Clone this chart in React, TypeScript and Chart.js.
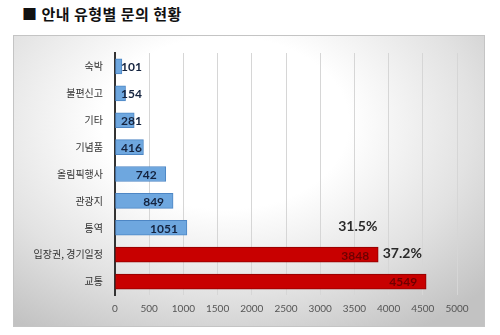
import React, { useEffect, useRef } from "react";
import { Chart, registerables } from "chart.js";

Chart.register(...registerables);

const titleText = "■ 안내 유형별 문의 현황";
const categories = ["숙박", "불편신고", "기타", "기념품", "올림픽행사", "관광지", "통역", "입장권, 경기일정", "교통"];
const values = [101, 154, 281, 416, 742, 849, 1051, 3848, 4549];
const highlight = [false, false, false, false, false, false, false, true, true];
const xTicks = [0, 500, 1000, 1500, 2000, 2500, 3000, 3500, 4000, 4500, 5000];
const pctTexts = ["31.5%", "37.2%"];
const pctCategory = ["통역", "입장권, 경기일정"];
const pctValue = [3550, 4200];

const BLUE = "#6ea7df";
const BLUE_BORDER = "#4d86c4";
const RED = "#c80000";
const RED_BORDER = "#8e0000";

const labelPlugin = {
  id: "barLabels",
  afterDatasetsDraw(chart: any) {
    const ctx = chart.ctx;
    const meta = chart.getDatasetMeta(0);
    const xs = chart.scales.x;
    const ys = chart.scales.y;
    ctx.save();
    ctx.font = "bold 12px Lato, 'Liberation Sans', sans-serif";
    ctx.textAlign = "right";
    ctx.textBaseline = "middle";
    meta.data.forEach((bar: any, i: number) => {
      const minRight = xs.getPixelForValue(0) + 27;
      const x = Math.max(bar.x - 9, minRight);
      ctx.fillStyle = highlight[i] ? "#6e0000" : "#14233f";
      ctx.fillText(String(values[i]), x, bar.y + 1);
    });
    ctx.font = "bold 14px Lato, 'Liberation Sans', sans-serif";
    ctx.textAlign = "center";
    ctx.fillStyle = "#2a2a2a";
    pctTexts.forEach((t, i) => {
      const idx = categories.indexOf(pctCategory[i]);
      ctx.fillText(t, xs.getPixelForValue(pctValue[i]), ys.getPixelForValue(idx) - 1);
    });
    ctx.restore();
  },
};

export default function App() {
  const ref = useRef<HTMLCanvasElement>(null);
  useEffect(() => {
    const chart = new Chart(ref.current!, {
      type: "bar",
      data: {
        labels: categories,
        datasets: [
          {
            data: values,
            backgroundColor: highlight.map((h) => (h ? RED : BLUE)),
            borderColor: highlight.map((h) => (h ? RED_BORDER : BLUE_BORDER)),
            borderWidth: 1,
            borderSkipped: false,
            barThickness: 15,
          },
        ],
      },
      options: {
        indexAxis: "y",
        animation: false,
        responsive: false,
        maintainAspectRatio: false,
        layout: { padding: { left: 0, right: 28, top: 17, bottom: 0 } },
        plugins: { legend: { display: false }, tooltip: { enabled: false }, title: { display: false } },
        scales: {
          x: {
            min: 0,
            max: 5000,
            afterBuildTicks: (s: any) => {
              s.ticks = xTicks.map((v) => ({ value: v }));
            },
            afterFit: (s: any) => {
              s.height = 32;
            },
            grid: { color: "#d6d6d6", lineWidth: 1, drawTicks: false },
            border: { display: false },
            ticks: {
              padding: 8,
              color: "#555",
              font: { size: 10, family: "Lato, 'Liberation Sans', sans-serif" },
              callback: (v: any) => String(v),
            },
          },
          y: {
            afterFit: (s: any) => {
              s.width = 102;
            },
            grid: { display: false, drawTicks: false },
            border: { display: true, color: "#333", width: 2 },
            ticks: {
              padding: 12,
              color: "#333",
              font: { size: 10, family: "'Noto Sans CJK KR', sans-serif" },
            },
          },
        },
      },
      plugins: [labelPlugin],
    });
    return () => chart.destroy();
  }, []);

  return (
    <div style={{ position: "fixed", left: 0, top: 0, width: 500, height: 335, background: "#fff", overflow: "hidden" }}>
      <div
        style={{
          position: "absolute",
          left: 22,
          top: 4,
          fontFamily: "'Noto Sans CJK KR', sans-serif",
          fontWeight: "bold",
          fontSize: 15,
          lineHeight: "20px",
          color: "#111",
          letterSpacing: 0.5,
          whiteSpace: "nowrap",
        }}
      >
        {titleText}
      </div>
      <div
        style={{
          position: "absolute",
          left: 13,
          top: 35,
          width: 472,
          height: 292,
          boxSizing: "border-box",
          border: "1px solid #c4c4c4",
          background: "radial-gradient(ellipse 75% 85% at 45% 30%, #ffffff 35%, #e2e2e2 70%, #c2c2c2 100%)",
        }}
      >
        <canvas ref={ref} width={472} height={292} style={{ position: "absolute", left: -1, top: -1, width: 472, height: 292 }} />
      </div>
    </div>
  );
}
